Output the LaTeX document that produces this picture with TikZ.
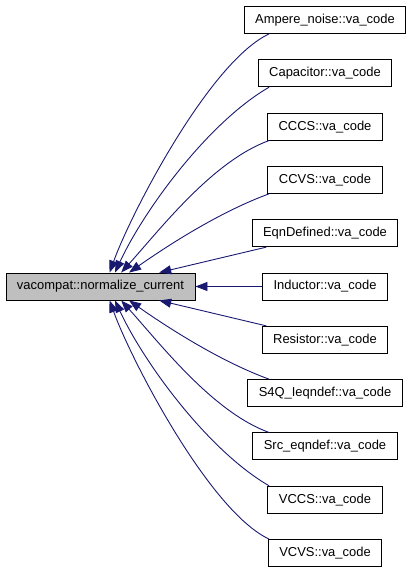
\documentclass[tikz,border=0pt]{standalone}
\usepackage{fontspec}
\setmainfont{Liberation Sans}
\usetikzlibrary{arrows.meta}
\definecolor{edgeblue}{HTML}{191970}
\definecolor{focusgray}{HTML}{BFBFBF}
\tikzset{
    box/.style={draw, line width=0.9bp, minimum height=27bp,
                inner xsep=11bp, inner ysep=0pt,
                font=\fontsize{13}{15}\selectfont},
    focus/.style={box, fill=focusgray},
    call/.style={color=edgeblue, line width=0.9bp,
                 -{Triangle[length=12bp, width=9bp]}},
}
\begin{document}
\begin{tikzpicture}[x=1bp, y=1bp]

    \useasboundingbox (0,0) rectangle (413,-573);

    \node[focus] (normalize) at (100.5,-286.5) {vacompat::normalize\_current};

    \node[box] (ampere) at (325,-20) {Ampere\_noise::va\_code};
    \node[box] (capacitor) at (325,-73.3) {Capacitor::va\_code};
    \node[box] (cccs) at (325,-126.6) {CCCS::va\_code};
    \node[box] (ccvs) at (325,-179.9) {CCVS::va\_code};
    \node[box] (eqndefined) at (325,-233.2) {EqnDefined::va\_code};
    \node[box] (inductor) at (325,-286.5) {Inductor::va\_code};
    \node[box] (resistor) at (325,-339.8) {Resistor::va\_code};
    \node[box] (s4q) at (325,-393.1) {S4Q\_Ieqndef::va\_code};
    \node[box] (src) at (325,-446.4) {Src\_eqndef::va\_code};
    \node[box] (vccs) at (325,-499.7) {VCCS::va\_code};
    \node[box] (vcvs) at (325,-553) {VCVS::va\_code};

    \draw[call] (ampere.194) to[out=205, in=70, looseness=0.58] (normalize.57);
    \draw[call] (capacitor.194) to[out=210, in=65, looseness=0.74] (normalize.44);
    \draw[call] (cccs.194) to[out=200, in=48, looseness=0.77] (normalize.34);
    \draw[call] (ccvs.194) to[out=200, in=35, looseness=0.8] (normalize.26);
    \draw[call] (eqndefined) -- (normalize);
    \draw[call] (inductor) -- (normalize);
    \draw[call] (resistor) -- (normalize);
    \draw[call] (s4q.166) to[out=160, in=-35, looseness=0.8] (normalize.-26);
    \draw[call] (src.166) to[out=160, in=-48, looseness=0.77] (normalize.-34);
    \draw[call] (vccs.166) to[out=150, in=-65, looseness=0.74] (normalize.-44);
    \draw[call] (vcvs.166) to[out=155, in=-70, looseness=0.58] (normalize.-57);

\end{tikzpicture}
\end{document}
